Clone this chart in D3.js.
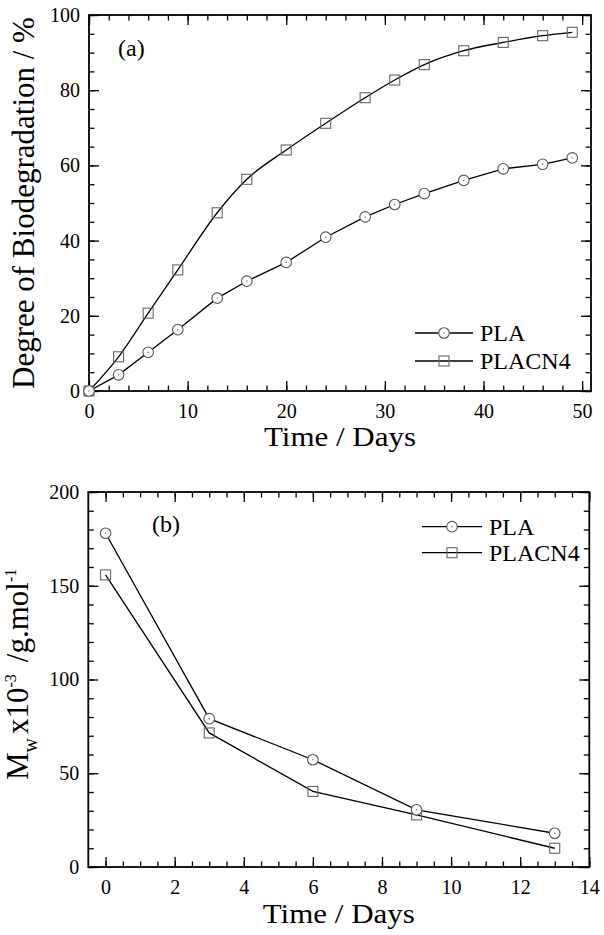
<!DOCTYPE html>
<html><head><meta charset="utf-8">
<script src="https://cdn.jsdelivr.net/npm/d3@7"></script>
<style>
html,body{margin:0;padding:0;background:#fff;}
svg{display:block;}
text{font-family:"Liberation Serif","Times New Roman",serif;fill:#000;}
</style></head>
<body>
<svg id="chart" width="604" height="935"></svg>
<script>
// ---- Data: panel (a) biodegradation ----
const daysA = [0, 3, 6, 9, 13, 16, 20, 24, 28, 31, 34, 38, 42, 46, 49];
const plaA = [0, 4.3, 10.3, 16.3, 24.7, 29.2, 34.2, 40.9, 46.3, 49.6, 52.5, 56.0, 59.1, 60.3, 62.0];
const placn4A = [0, 9.1, 20.7, 32.2, 47.4, 56.3, 64.1, 71.2, 78.0, 82.7, 86.8, 90.5, 92.7, 94.5, 95.4];
const xTicksA = [0, 10, 20, 30, 40, 50];
const yTicksA = [0, 20, 40, 60, 80, 100];

// ---- Data: panel (b) molecular weight ----
const daysB = [0, 3, 6, 9, 13];
const plaB = [178, 79.1, 57.2, 30.5, 18.0];
const placn4B = [155.8, 71.5, 40.3, 27.8, 10.0];
const xTicksB = [0, 2, 4, 6, 8, 10, 12, 14];
const yTicksB = [0, 50, 100, 150, 200];

const seriesNames = ["PLA", "PLACN4"];

const svg = d3.select("#chart");

function panel(cfg) {
  const g = svg.append("g");
  const x = d3.scaleLinear().domain(cfg.xDomain).range([cfg.left, cfg.right]);
  const y = d3.scaleLinear().domain(cfg.yDomain).range([cfg.bottom, cfg.top]);
  const fs = 20;

  const minorX = d3.range(cfg.xDomain[0] < 0 ? 0 : cfg.xDomain[0], cfg.xMax + 1e-9, cfg.xMinor)
    .filter(v => x(v) >= cfg.left - 0.5 && x(v) <= cfg.right + 0.5);
  const minorY = d3.range(cfg.yDomain[0], cfg.yDomain[1] + 1e-9, cfg.yMinor);

  // bottom axis
  g.append("g").attr("transform", `translate(0,${cfg.bottom})`)
    .call(d3.axisBottom(x).tickValues(cfg.xTicks).tickSizeInner(-10).tickSizeOuter(0).tickPadding(13).tickFormat(d3.format("d")));
  g.append("g").attr("transform", `translate(0,${cfg.bottom})`)
    .call(d3.axisBottom(x).tickValues(minorX).tickSizeInner(-5.5).tickSizeOuter(0).tickFormat(""));
  // top axis
  g.append("g").attr("transform", `translate(0,${cfg.top})`)
    .call(d3.axisTop(x).tickValues(cfg.xTicks).tickSizeInner(-10).tickSizeOuter(0).tickFormat(""));
  g.append("g").attr("transform", `translate(0,${cfg.top})`)
    .call(d3.axisTop(x).tickValues(minorX).tickSizeInner(-5.5).tickSizeOuter(0).tickFormat(""));
  // left axis
  g.append("g").attr("transform", `translate(${cfg.left},0)`)
    .call(d3.axisLeft(y).tickValues(cfg.yTicks).tickSizeInner(-10).tickSizeOuter(0).tickPadding(9).tickFormat(d3.format("d")));
  g.append("g").attr("transform", `translate(${cfg.left},0)`)
    .call(d3.axisLeft(y).tickValues(minorY).tickSizeInner(-5.5).tickSizeOuter(0).tickFormat(""));
  // right axis
  g.append("g").attr("transform", `translate(${cfg.right},0)`)
    .call(d3.axisRight(y).tickValues(cfg.yTicks).tickSizeInner(-10).tickSizeOuter(0).tickFormat(""));
  g.append("g").attr("transform", `translate(${cfg.right},0)`)
    .call(d3.axisRight(y).tickValues(minorY).tickSizeInner(-5.5).tickSizeOuter(0).tickFormat(""));

  g.selectAll(".domain").remove();
  g.selectAll(".tick line").attr("stroke", "#000").attr("stroke-width", 1.3);
  g.selectAll(".tick text").style("font-family", '"Liberation Serif", serif').style("font-size", fs + "px").attr("fill", "#000");

  // frame
  g.append("rect").attr("x", cfg.left).attr("y", cfg.top)
    .attr("width", cfg.right - cfg.left).attr("height", cfg.bottom - cfg.top)
    .attr("fill", "none").attr("stroke", "#000").attr("stroke-width", 1.8);

  // lines
  const s1 = cfg.days.map((d, i) => [d, cfg.s1[i]]);
  const s2 = cfg.days.map((d, i) => [d, cfg.s2[i]]);
  const line1 = d3.line().x(d => x(d[0])).y(d => y(d[1])).curve(cfg.curve1);
  const line2 = d3.line().x(d => x(d[0])).y(d => y(d[1])).curve(cfg.curve2);
  g.append("path").attr("d", line2(s2)).attr("fill", "none").attr("stroke", "#000").attr("stroke-width", 1.3);
  g.append("path").attr("d", line1(s1)).attr("fill", "none").attr("stroke", "#000").attr("stroke-width", 1.3);

  // markers
  const sq = 10;
  g.selectAll(null).data(s2).enter().append("rect")
    .attr("x", d => x(d[0]) - sq / 2).attr("y", d => y(d[1]) - sq / 2)
    .attr("width", sq).attr("height", sq)
    .attr("fill", "none").attr("stroke", "#666").attr("stroke-width", 1.1);
  g.selectAll(null).data(s1).enter().append("circle")
    .attr("cx", d => x(d[0])).attr("cy", d => y(d[1])).attr("r", 5.3)
    .attr("fill", "#fff").attr("stroke", "#555").attr("stroke-width", 1.1);
  g.selectAll(null).data(s1).enter().append("circle")
    .attr("cx", d => x(d[0])).attr("cy", d => y(d[1])).attr("r", 0.7)
    .attr("fill", "#666");

  // panel label
  g.append("text").attr("x", cfg.labelX).attr("y", cfg.labelY)
    .style("font-size", "24px").text(cfg.label);

  // legend
  cfg.legend.forEach((ly, i) => {
    g.append("line").attr("x1", cfg.legX1).attr("x2", cfg.legX2).attr("y1", ly).attr("y2", ly)
      .attr("stroke", "#000").attr("stroke-width", 1.3);
    const mx = (cfg.legX1 + cfg.legX2) / 2;
    if (i === 0) {
      g.append("circle").attr("cx", mx).attr("cy", ly).attr("r", 5.3)
        .attr("fill", "#fff").attr("stroke", "#555").attr("stroke-width", 1.1);
      g.append("circle").attr("cx", mx).attr("cy", ly).attr("r", 0.7).attr("fill", "#666");
    } else {
      g.append("rect").attr("x", mx - sq / 2).attr("y", ly - sq / 2).attr("width", sq).attr("height", sq)
        .attr("fill", "none").attr("stroke", "#666").attr("stroke-width", 1.1);
    }
    g.append("text").attr("x", cfg.legX2 + 7).attr("y", ly + 8)
      .style("font-size", "24px").text(seriesNames[i]);
  });

  // x title
  g.append("text").attr("x", (cfg.left + cfg.right) / 2).attr("y", cfg.xTitleY)
    .attr("text-anchor", "middle").style("font-size", "28px")
    .attr("textLength", 152).attr("lengthAdjust", "spacingAndGlyphs")
    .text("Time / Days");
  return {g, x, y};
}

// Panel (a)
const A = panel({
  left: 89, right: 591, top: 15, bottom: 391,
  xDomain: [0, 50.9], yDomain: [0, 100], xMax: 50, xMinor: 2, yMinor: 5,
  xTicks: xTicksA, yTicks: yTicksA,
  days: daysA, s1: plaA, s2: placn4A,
  curve1: d3.curveLinear, curve2: d3.curveMonotoneX,
  label: "(a)", labelX: 118, labelY: 56,
  legend: [333, 361], legX1: 415, legX2: 473,
  xTitleY: 446
});
A.g.append("text")
  .attr("transform", `translate(34,${(15 + 391) / 2}) rotate(-90)`)
  .attr("text-anchor", "middle").style("font-size", "31px")
  .text("Degree of Biodegradation / %");

// Panel (b)
const B = panel({
  left: 88.3, right: 589.3, top: 492, bottom: 867,
  xDomain: [-0.5, 14], yDomain: [0, 200], xMax: 14, xMinor: 0.5, yMinor: 10,
  xTicks: xTicksB, yTicks: yTicksB,
  days: daysB, s1: plaB, s2: placn4B,
  curve1: d3.curveLinear, curve2: d3.curveLinear,
  label: "(b)", labelX: 152, labelY: 532,
  legend: [526.7, 552.7], legX1: 422, legX2: 482,
  xTitleY: 923
});
const yt = B.g.append("text")
  .attr("transform", `translate(28,780) rotate(-90)`)
  .attr("text-anchor", "start").style("font-size", "31px");
yt.append("tspan").text("M");
yt.append("tspan").attr("dy", 9).style("font-size", "20px").text("w");
yt.append("tspan").attr("dy", -9).attr("dx", 4).text("x10");
yt.append("tspan").attr("dy", -12).style("font-size", "16px").text("-3");
yt.append("tspan").attr("dy", 12).attr("dx", 12).text("/g.mol");
yt.append("tspan").attr("dy", -12).style("font-size", "16px").text("-1");
</script>
</body></html>
